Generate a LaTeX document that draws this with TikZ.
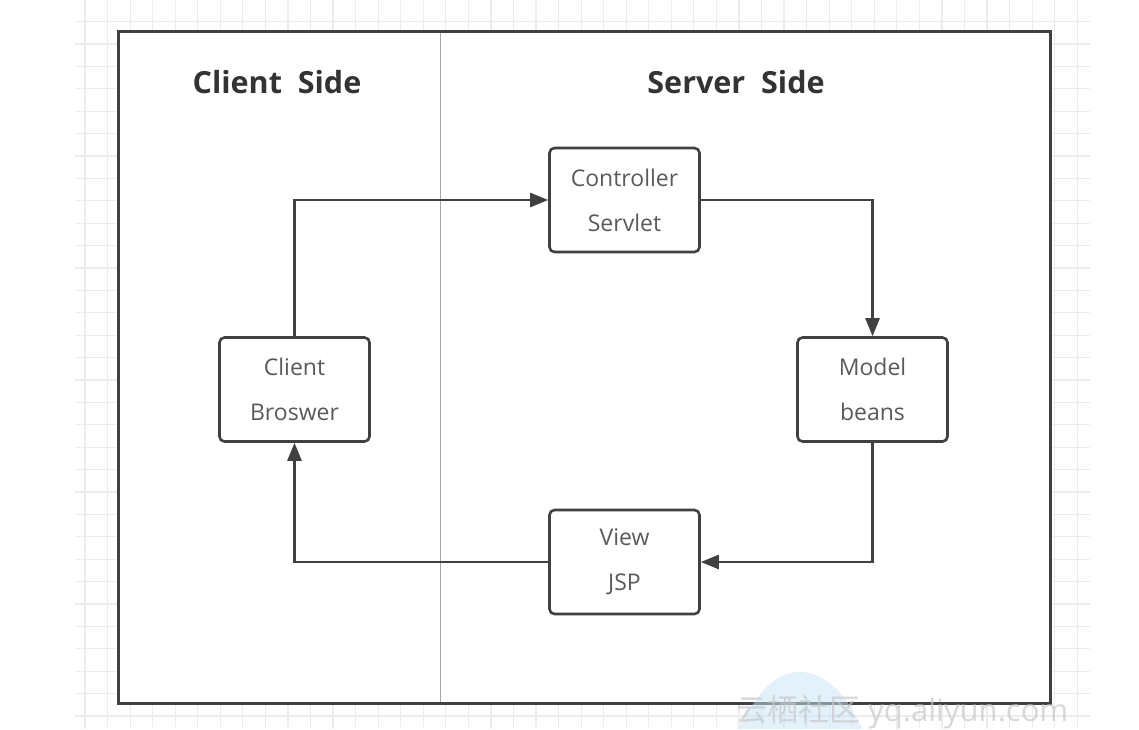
\documentclass[tikz,border=0pt]{standalone}
\usepackage{fontspec}
\setmainfont{Open Sans}
\newfontfamily\cjk{Noto Sans CJK SC}
\usetikzlibrary{arrows.meta}
\definecolor{gridc}{RGB}{236,236,236}
\definecolor{edgec}{RGB}{64,64,64}
\definecolor{textc}{RGB}{90,90,90}
\definecolor{titlec}{RGB}{51,51,51}
\definecolor{cloudc}{RGB}{200,228,248}
\definecolor{wmc}{RGB}{200,200,200}
\begin{document}
\begin{tikzpicture}[x=1pt,y=-1pt,
  gridline/.style={draw=gridc,line width=1.2pt},
  frame/.style={draw=edgec,line width=3pt,fill=white},
  divider/.style={draw=gray!70,line width=1pt},
  title/.style={font=\fontsize{30.5}{34}\selectfont\bfseries,text=titlec},
  stepbox/.style={draw=edgec,line width=2.6pt,rounded corners=5pt,fill=white,
    minimum width=150pt,minimum height=104pt,inner sep=0pt,align=center,
    text=textc,font=\fontsize{23}{45}\selectfont},
  conn/.style={draw=edgec,line width=2.6pt,-{Triangle[length=18pt,width=14pt]}}
]
\useasboundingbox (0,0) rectangle (1139,729);
% background grid
\foreach \i in {0,...,44} \draw[gridline] ({85+22.55*\i},0) -- ({85+22.55*\i},729);
\foreach \j in {0,...,31} \draw[gridline] (75,{21.5+22.4*\j}) -- (1090,{21.5+22.4*\j});
% outer frame
\draw[frame] (118,31) rectangle (1050,703);
\coordinate (divtop) at (440,32.5);
\coordinate (divbot) at (440,701.5);
\draw[divider] (divtop) -- (divbot);
% titles
\node[title] (ct) at (277,82) {Client\ \ Side};
\node[title] (st) at (736,82) {Server\ \ Side};
% boxes
\node[stepbox] (ctrl) at (624.5,200) {Controller\\Servlet};
\node[stepbox] (model) at (872.5,389.5) {Model\\beans};
\node[stepbox] (view) at (624.5,562) {View\\JSP};
\node[stepbox] (client) at (294.5,389.5) {Client\\Broswer};
% connectors
\draw[conn] (client.north) |- (ctrl.west);
\draw[conn] (ctrl.east) -| (model.north);
\draw[conn] (model.south) |- (view.east);
\draw[conn] (view.west) -| (client.south);
% watermark
\fill[cloudc,opacity=0.5] (738,729) .. controls (760,690) and (775,672) .. (800,672) .. controls (828,672) and (850,700) .. (862,729) -- cycle;
\node[text=wmc,opacity=0.7,font=\fontsize{31}{34}\selectfont,anchor=west,inner sep=0pt] (wm) at (736,712) {{\cjk 云栖社区} yq.aliyun.com};
\end{tikzpicture}
\end{document}
